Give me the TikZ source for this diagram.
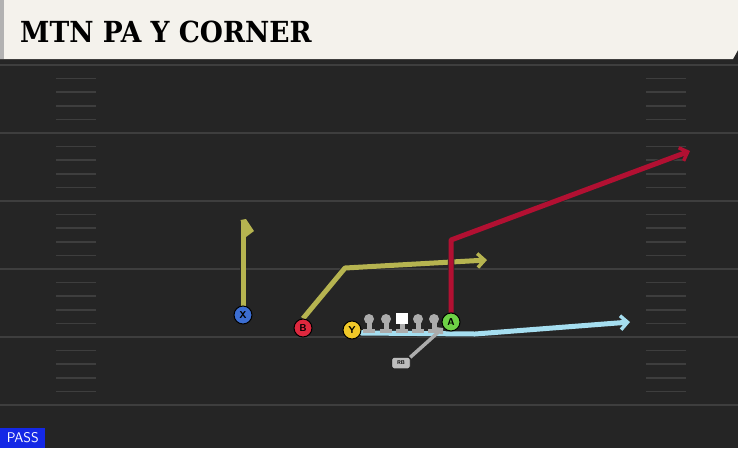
\documentclass[tikz,border=0pt]{standalone}
\usepackage{fontspec}
\setmainfont{DejaVu Serif}
\usetikzlibrary{arrows.meta}
\definecolor{field}{RGB}{37,37,37}
\definecolor{yardline}{RGB}{62,62,62}
\definecolor{header}{RGB}{244,242,236}
\definecolor{olive}{RGB}{182,180,80}
\definecolor{crimson}{RGB}{178,16,50}
\definecolor{skyblue}{RGB}{165,222,240}
\definecolor{xblue}{RGB}{60,110,210}
\definecolor{bred}{RGB}{222,40,62}
\definecolor{yyellow}{RGB}{240,200,40}
\definecolor{agreen}{RGB}{110,210,70}
\definecolor{olgray}{RGB}{172,172,172}
\definecolor{passblue}{RGB}{20,40,230}
\pgfdeclarelayer{front}
\pgfsetlayers{main,front}
\tikzset{
  player/.style={circle,draw=black,line width=1pt,minimum size=18pt,inner sep=0pt,
    font=\sffamily\bfseries\fontsize{10}{10}\selectfont},
  route/.style={line width=5pt,line join=round,
    preaction={draw=black!85,line width=6.5pt},
    -{Straight Barb[length=7pt,width=14pt,line width=3.5pt]}},
  hash/.style={yardline,line width=1.5pt}
}
\begin{document}
\begin{tikzpicture}[x=1pt,y=-1pt]
\useasboundingbox (0,0) rectangle (738,448);
\fill[field] (0,0) rectangle (738,448);
% yard lines and hash marks
\foreach \y in {65,133,201,269,337,405}
  \draw[yardline,line width=2pt] (0,\y) -- (738,\y);
\foreach \y in {65,133,201,269,337}
  \foreach \k in {1,...,4} {
    \draw[hash] (56,\y+\k*13.6) -- (96,\y+\k*13.6);
    \draw[hash] (646,\y+\k*13.6) -- (686,\y+\k*13.6);
  }
% header
\fill[black!85] (0,0) rectangle (738,63);
\fill[header] (0,0) -- (738,0) -- (738,50) -- (733,59) -- (0,59) -- cycle;
\fill[black!30] (0,0) rectangle (4,59);
\node[anchor=west,font=\bfseries\fontsize{29}{30}\selectfont,inner sep=0pt] (title) at (20,32)
  {\scalebox{0.915}[1]{MTN PA Y CORNER}};
% players
\begin{pgfonlayer}{front}
\node[player,fill=xblue] (X) at (243,315) {X};
\node[player,fill=bred] (B) at (303,328) {B};
\node[player,fill=yyellow] (Y) at (352,330) {Y};
\node[player,fill=agreen] (A) at (451,322) {A};
\node[rounded corners=2pt,fill=olgray!80,draw=black,minimum width=18pt,minimum height=11pt,inner sep=0pt,
  font=\sffamily\bfseries\fontsize{5.5}{5.5}\selectfont] (RB) at (401,363) {RB};
\end{pgfonlayer}
\coordinate (xtop) at (243,222);
\coordinate (bbreak) at (345,268);
\coordinate (bend) at (487,260);
\coordinate (ybreak) at (475,334);
\coordinate (yend) at (630,322);
\coordinate (abreak) at (451,240);
\coordinate (aend) at (690,151);
\coordinate (rbend) at (443,328);
% routes
\draw[route,skyblue] (Y.east) -- ++(0,3) -- (ybreak) -- (yend);
% offensive line
\foreach \x in {369,386,418,434} {
  \fill[olgray] (\x-6,329) rectangle (\x+6,333);
  \fill[olgray] (\x-2.5,319) rectangle (\x+2.5,330);
  \fill[olgray] (\x,319) circle (5);
}
\fill[olgray] (396,329) rectangle (408,333);
\fill[olgray] (399.5,322) rectangle (404.5,330);
\fill[white] (396,313) rectangle (408,324);
\draw[olive,line width=5pt,line join=round,preaction={draw=black!85,line width=6.5pt}] (X.north) -- (xtop);
\fill[olive] (240.5,220) -- (246,219) -- (254,231) -- (246,237) -- cycle;
\draw[route,olive] (B.north) -- (bbreak) -- (bend);
\draw[route,crimson] (A.north) -- (abreak) -- (aend);
\draw[olgray,line width=3.5pt,-{Straight Barb[length=3pt,width=7pt]}] (RB.north east) -- (rbend);
% play type
\node[fill=passblue,text=white,anchor=south west,minimum width=45pt,minimum height=20pt,inner sep=1pt,
  font=\sffamily\fontsize{14}{14}\selectfont] (ptype) at (0,448) {PASS};
\end{tikzpicture}
\end{document}
